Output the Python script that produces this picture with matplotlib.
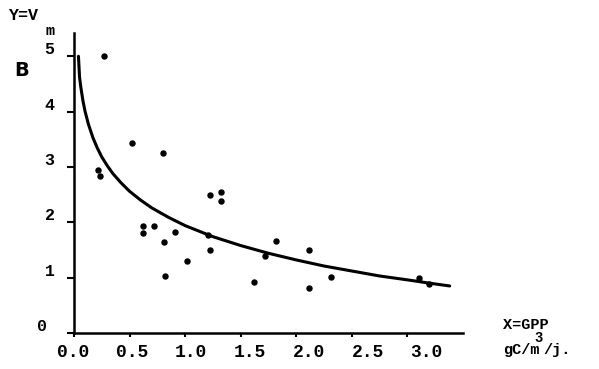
import matplotlib
matplotlib.use("Agg")
import matplotlib.pyplot as plt
import matplotlib.transforms as mtransforms

# ---- data ----
gpp = [0.27, 0.22, 0.23, 0.52, 0.80, 1.22, 1.32, 1.32, 0.62, 0.62, 0.72, 0.91,
       0.81, 1.21, 1.22, 1.02, 0.82, 1.82, 1.72, 2.11, 1.62, 2.11, 2.31, 3.10, 3.19]
vm = [5.00, 2.94, 2.83, 3.44, 3.25, 2.49, 2.54, 2.38, 1.94, 1.80, 1.94, 1.82,
      1.64, 1.77, 1.50, 1.30, 1.03, 1.66, 1.40, 1.50, 0.92, 0.82, 1.02, 0.99, 0.88]

# fitted curve, points
curve_x = [0.04, 0.05, 0.06, 0.08, 0.10, 0.13, 0.17, 0.21, 0.25, 0.30, 0.35,
           0.42, 0.50, 0.60, 0.70, 0.85, 1.00, 1.25, 1.50, 1.75, 2.00, 2.25,
           2.50, 2.75, 3.00, 3.20, 3.38]
curve_y = [5.00, 4.62, 4.46, 4.20, 4.00, 3.77, 3.53, 3.34, 3.18, 3.02, 2.88,
           2.72, 2.56, 2.40, 2.26, 2.09, 1.94, 1.74, 1.58, 1.44, 1.32, 1.21,
           1.12, 1.03, 0.96, 0.90, 0.85]

x_ticks = [0.0, 0.5, 1.0, 1.5, 2.0, 2.5, 3.0]
x_tick_labels = ["0.0", "0.5", "1.0", "1.5", "2.0", "2.5", "3.0"]
y_ticks = [0, 1, 2, 3, 4, 5]
y_tick_labels = ["0", "1", "2", "3", "4", "5"]

W, H = 599, 369
fig = plt.figure(figsize=(W / 100, H / 100), dpi=100)
ax = fig.add_axes([74 / W, (H - 333) / H, (463 - 74) / W, (333 - 33) / H])

mono = "Liberation Mono"

ax.plot(curve_x, curve_y, color="black", lw=2.2, solid_capstyle="round",
        solid_joinstyle="round")
ax.plot(gpp, vm, "o", color="black", ms=3.6, mec="black")

ax.set_xlim(0, 3.5)
ax.set_ylim(0, 5.42)
for s in ["top", "right"]:
    ax.spines[s].set_visible(False)
for s in ["left", "bottom"]:
    ax.spines[s].set_linewidth(1.8)

ax.set_xticks(x_ticks)
ax.set_xticklabels(x_tick_labels, fontfamily=mono, fontweight="bold", fontsize=13)
ax.set_yticks(y_ticks)
ax.set_yticklabels(y_tick_labels, fontfamily=mono, fontweight="bold", fontsize=12)
ax.tick_params(axis="x", direction="out", length=3, width=1.5, pad=5)
ax.tick_params(axis="y", direction="out", length=5, width=1.5, pad=9)

# typed labels drift slightly right of their ticks, as in the original
for i, lab in enumerate(ax.get_xticklabels()):
    dx = (-1 + 3.4 * i) / 100
    lab.set_transform(lab.get_transform() + mtransforms.ScaledTranslation(dx, 0, fig.dpi_scale_trans))
for lab in ax.get_yticklabels():
    dx = -0.08 if lab.get_text() == "0" else 0
    lab.set_transform(lab.get_transform() + mtransforms.ScaledTranslation(dx, 0.08, fig.dpi_scale_trans))

def ftext(x, y, s, family=mono, **kw):
    fig.text(x / W, 1 - y / H, s, fontfamily=family, fontweight="bold", **kw)

ftext(8, 16, "Y=V", fontsize=12, va="center", ha="left")
ftext(46, 31, "m", fontsize=11, va="center", ha="left")
ftext(14, 70, "B", family="DejaVu Sans", fontsize=14, va="center", ha="left")
ftext(503, 325, "X=GPP", fontsize=11, va="center", ha="left")
ftext(503, 350, "gC/m", fontsize=11, va="center", ha="left")
ftext(534, 338, "3", fontsize=10, va="center", ha="left")
ftext(543, 350, "/j.", fontsize=11, va="center", ha="left")

fig.savefig("out.png", dpi=100)
